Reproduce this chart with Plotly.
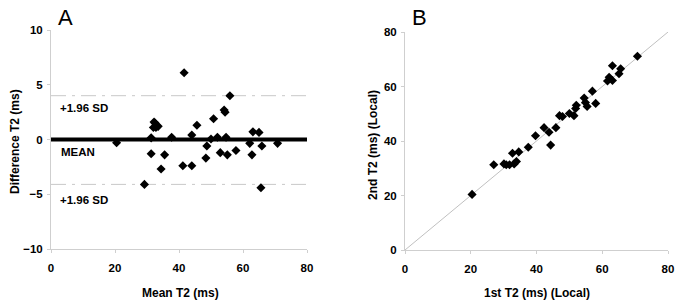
import plotly.graph_objects as go

# Panel A: Bland-Altman (mean vs difference)
mean_t2 = [20.5, 29.2, 31.3, 31.3, 32.2, 32.0, 32.5, 33.0, 33.5, 32.8, 34.4, 35.5, 37.7,
           41.2, 41.6, 44.0, 44.0, 45.6, 48.4, 48.7, 50.8, 50.0, 52.0, 52.9, 54.1, 54.4,
           54.7, 55.1, 55.9, 57.8, 62.1, 62.8, 63.1, 65.0, 65.9, 65.6, 70.8]
diff_t2 = [-0.3, -4.1, 0.15, -1.3, 1.6, 1.1, 1.5, 1.3, 1.2, 1.1, -2.7, -1.4, 0.2,
           -2.4, 6.1, -2.4, 0.4, 1.3, -1.7, -0.6, 1.9, 0.05, 0.2, -1.2, 2.7, 2.5,
           0.2, -1.4, 4.0, -1.0, -0.35, -1.4, 0.7, 0.65, -0.6, -4.4, -0.35]
mean_diff = 0.0
upper_sd = 4.0
lower_sd = -4.1

# Panel B: 1st vs 2nd measurement
first_t2 = [20.4, 27.0, 30.1, 30.8, 31.8, 32.7, 33.2, 33.9, 34.6, 37.5, 39.7, 42.3, 43.8,
            44.3, 45.9, 47.0, 47.9, 50.0, 51.4, 51.9, 52.1, 54.5, 54.9, 55.4, 57.0, 58.0,
            61.6, 62.1, 63.1, 63.1, 65.1, 65.6, 70.7]
second_t2 = [20.4, 31.3, 31.6, 31.3, 31.3, 35.5, 31.6, 32.5, 36.0, 37.7, 41.9, 44.9, 43.2,
             38.5, 44.9, 49.3, 49.0, 50.1, 49.3, 51.9, 53.1, 55.8, 54.1, 52.7, 58.3, 53.8,
             62.0, 63.4, 62.2, 67.6, 64.7, 66.5, 71.1]
identity = [0, 80]

ticks_a_x = [0, 20, 40, 60, 80]
ticks_a_y = [-10, -5, 0, 5, 10]
ticks_b = [0, 20, 40, 60, 80]

FONT = "Liberation Sans, Arial, sans-serif"
AX = "#cfcfcf"

fig = go.Figure()

# Panel A lines
fig.add_trace(go.Scatter(x=[0, 80], y=[upper_sd, upper_sd], mode="lines",
                         line=dict(color="#c8c8c8", width=1, dash="longdashdot"),
                         xaxis="x", yaxis="y", showlegend=False, hoverinfo="skip"))
fig.add_trace(go.Scatter(x=[0, 80], y=[lower_sd, lower_sd], mode="lines",
                         line=dict(color="#c8c8c8", width=1, dash="longdashdot"),
                         xaxis="x", yaxis="y", showlegend=False, hoverinfo="skip"))
fig.add_trace(go.Scatter(x=[0, 80], y=[mean_diff, mean_diff], mode="lines",
                         line=dict(color="black", width=4),
                         xaxis="x", yaxis="y", showlegend=False, hoverinfo="skip"))
fig.add_trace(go.Scatter(x=mean_t2, y=diff_t2, mode="markers",
                         marker=dict(symbol="diamond", size=7, color="black"),
                         xaxis="x", yaxis="y", showlegend=False))

# Panel B
fig.add_trace(go.Scatter(x=identity, y=identity, mode="lines",
                         line=dict(color="#c0c0c0", width=1),
                         xaxis="x2", yaxis="y2", showlegend=False, hoverinfo="skip"))
fig.add_trace(go.Scatter(x=first_t2, y=second_t2, mode="markers",
                         marker=dict(symbol="diamond", size=7, color="black"),
                         xaxis="x2", yaxis="y2", showlegend=False))

tickfont = dict(family=FONT, size=11.5, color="black", weight="bold")
titlefont = dict(family=FONT, size=12, color="black", weight="bold")
labelfont = dict(family=FONT, size=11.5, color="black", weight="bold")

common = dict(showline=True, linecolor=AX, linewidth=1, ticks="outside", ticklen=3,
              tickcolor=AX, showgrid=False, zeroline=False, tickfont=tickfont,
              automargin=False)


def pann(text, px, py, **kw):
    d = dict(text=text, x=px / 685, y=1 - py / 308, xref="paper", yref="paper",
             xanchor="center", yanchor="middle", showarrow=False)
    d.update(kw)
    return d


fig.update_layout(
    width=685, height=308,
    margin=dict(l=0, r=0, t=0, b=0),
    paper_bgcolor="white", plot_bgcolor="white",
    xaxis=dict(domain=[51/685, 307/685], range=[0, 80], tickvals=ticks_a_x,
               anchor="y", ticklabelstandoff=5, **common),
    yaxis=dict(domain=[(308-249)/308, (308-30)/308], range=[-10, 10], tickvals=ticks_a_y,
               anchor="x", ticklabelstandoff=2, **common),
    xaxis2=dict(domain=[405/685, 668/685], range=[0, 80], tickvals=ticks_b,
                anchor="y2", ticklabelstandoff=5, **common),
    yaxis2=dict(domain=[(308-250)/308, (308-32)/308], range=[0, 80], tickvals=ticks_b,
                anchor="x2", ticklabelstandoff=2, **common),
    annotations=[
        pann("A", 65, 18, font=dict(family=FONT, size=22, color="black")),
        pann("B", 419, 17, font=dict(family=FONT, size=22, color="black")),
        # axis titles
        pann("Mean T2 (ms)", 180, 293, font=titlefont),
        pann("Difference T2 (ms)", 15, 142, textangle=-90, font=titlefont),
        pann("1st T2 (ms) (Local)", 537, 293, font=titlefont),
        pann("2nd T2 (ms) (Local)", 373, 145, textangle=-90, font=titlefont),
        # reference line labels
        dict(text="+1.96 SD", x=2.3, y=2.9, xref="x", yref="y", xanchor="left",
             yanchor="middle", showarrow=False, font=labelfont),
        dict(text="MEAN", x=2.5, y=-1.1, xref="x", yref="y", xanchor="left",
             yanchor="middle", showarrow=False, font=labelfont),
        dict(text="+1.96 SD", x=2.3, y=-5.5, xref="x", yref="y", xanchor="left",
             yanchor="middle", showarrow=False, font=labelfont),
    ],
)

fig.write_html("out.html",
               config={"displayModeBar": False},
               post_script="document.body.style.margin='0';document.body.style.overflow='hidden';")
